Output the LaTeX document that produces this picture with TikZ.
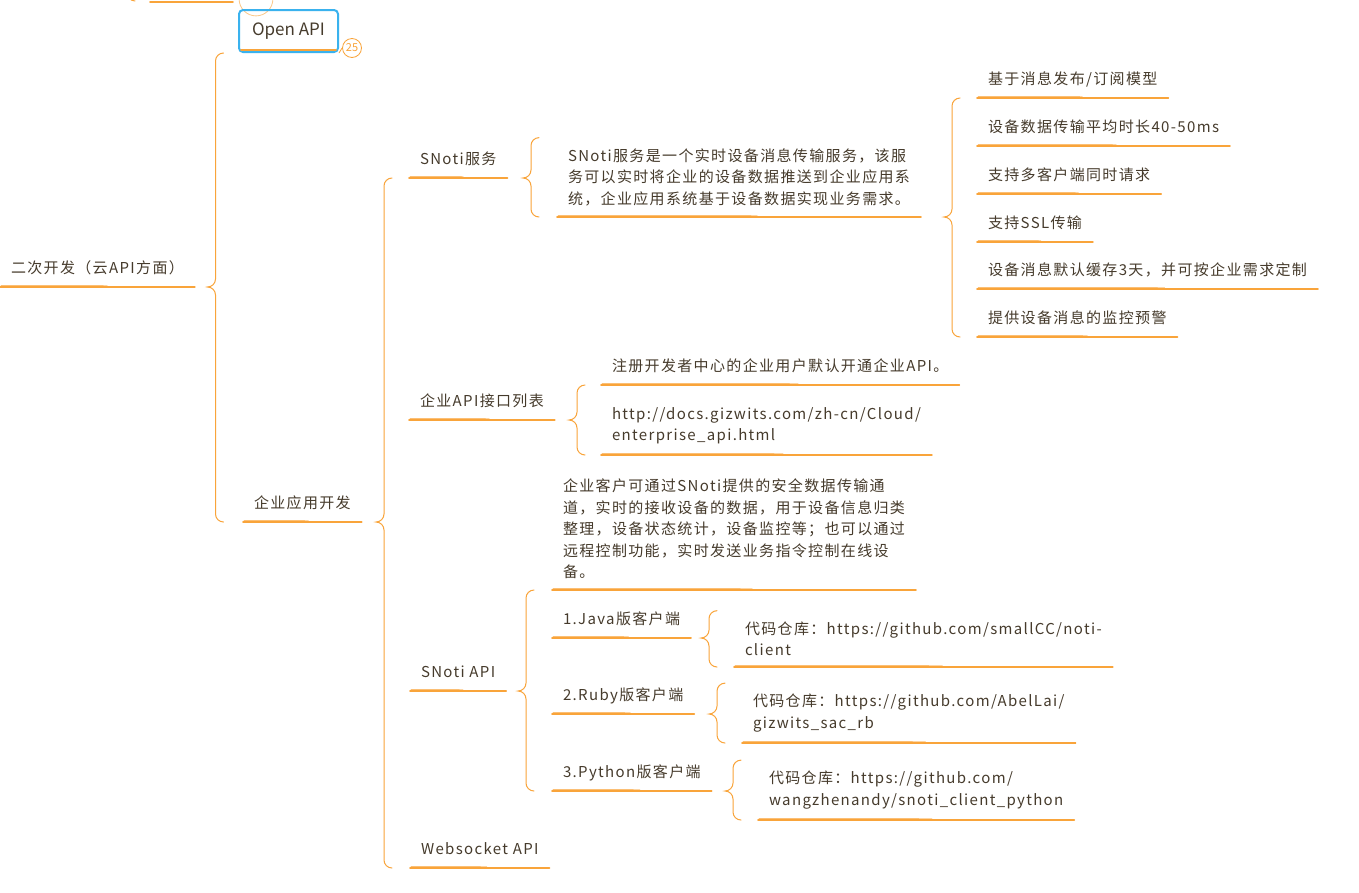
\documentclass[tikz,border=0pt]{standalone}
\usepackage{fontspec}
\setmainfont{Noto Sans CJK SC}[LetterSpace=9]
\usepackage{tikz}
\usetikzlibrary{calc}
\usetikzlibrary{positioning}
\usepackage{xcolor}
\definecolor{mapline}{HTML}{F9A43A}
\definecolor{maptext}{HTML}{463B2C}
\definecolor{mapblue}{HTML}{3AB2EE}

% brace: #1 = x of the spine, #2 = parent, #3 = top end, #4 = bottom end
\newcommand\mapbrace[4]{%
  \draw[brace] let \p1=(#2.south), \p2=(#3), \p3=(#4) in
    (#1pt+8pt,\y2) to[out=180,in=90] (#1pt,\y2-8pt) -- (#1pt,\y1+8pt)
    to[out=-90,in=0] (#1pt-8pt,\y1) to[out=0,in=90] (#1pt,\y1-8pt)
    -- (#1pt,\y3+8pt) to[out=-90,in=180] (#1pt+8pt,\y3);}

\begin{document}
\begin{tikzpicture}[
    x=1pt, y=-1pt,
    % Phong cach cac chu de
    topic/.style={anchor=south west, inner xsep=11pt, inner ysep=11pt, outer sep=0pt,
        text depth=2.5pt, text=maptext, font=\fontsize{15}{21.5}\selectfont},
    note/.style={anchor=south west, inner xsep=11pt, inner ysep=11pt, outer sep=0pt,
        align=left, text=maptext, font=\fontsize{15}{21.5}\selectfont},
    apibox/.style={draw=mapblue, line width=2pt, rounded corners=4pt, minimum width=99pt,
        minimum height=42pt, text=maptext, font=\fontsize{17}{20}\selectfont\addfontfeature{LetterSpace=0}},
    badge/.style={circle, draw=mapline, line width=0.8pt, minimum size=19pt, inner sep=0pt,
        text=mapline, font=\fontsize{11}{12}\selectfont\addfontfeature{LetterSpace=0}},
    % Net gach chan va ngoac
    uline/.style={draw=mapline, line width=1.6pt, line cap=round},
    ulinethin/.style={draw=mapline!70, line width=0.7pt, line cap=round},
    brace/.style={draw=mapline, line width=1pt, line cap=round}
]
    \fill[white] (0,0) rectangle (1359,892);
    \useasboundingbox (0,0) rectangle (1359,892);

    % --- 1. NUT BI CAT O TREN ---
    \coordinate (prevL) at (150,2);
    \coordinate (prevR) at (233,2);
    \node[badge, draw=mapline!60, text=mapline!60] (prevbadge) at (256,-1) {\raisebox{2pt}{···}};
    \draw[uline] (prevL) -- (prevR);
    \draw[brace] (127,-8) to[out=-90,in=180] (135,1);

    % --- 2. GOC VA NHANH CAP 1 ---
    \node[topic] (root) at (0,287) {二次开发（云API方面）};
    \node[apibox] (openapi) at (288.5,31) {Open API};
    \node[badge] (openbadge) at (352,48) {25};
    \draw[draw=mapline, line width=0.8pt] (openapi.south east) -- (openbadge.west);
    \draw[uline] ($(openapi.south west)+(3pt,3pt)$) -- ($(openapi.south east)+(-3pt,3pt)$);
    \node[topic] (entdev) at (243,522) {企业应用开发};

    % --- 3. NHANH CAP 2 ---
    \node[topic] (snotisvc) at (409,178) {SNoti服务};
    \node[topic] (apilist) at (409,420) {企业API接口列表};
    \node[topic] (snotiapi) at (410,691) {SNoti API};
    \node[topic] (websock) at (410,868) {Websocket API};

    % --- 4. SNoti SERVICE ---
    \node[note] (desc1) at (557,217) {SNoti服务是一个实时设备消息传输服务，该服\\务可以实时将企业的设备数据推送到企业应用系\\统，企业应用系统基于设备数据实现业务需求。};
    \node[topic] (f1) at (977,98) {基于消息发布/订阅模型};
    \node[topic] (f2) at (977,146) {设备数据传输平均时长40-50ms};
    \node[topic] (f3) at (977,194) {支持多客户端同时请求};
    \node[topic] (f4) at (977,242) {支持SSL传输};
    \node[topic] (f5) at (977,289) {设备消息默认缓存3天，并可按企业需求定制};
    \node[topic] (f6) at (977,337) {提供设备消息的监控预警};

    % --- 5. ENTERPRISE API ---
    \node[topic] (apinote) at (601,385) {注册开发者中心的企业用户默认开通企业API。};
    \node[note] (apiurl) at (601,455) {http://docs.gizwits.com/zh-cn/Cloud/\\enterprise\_api.html};

    % --- 6. SNoti API ---
    \node[note] (desc2) at (552,590) {企业客户可通过SNoti提供的安全数据传输通\\道，实时的接收设备的数据，用于设备信息归类\\整理，设备状态统计，设备监控等；也可以通过\\远程控制功能，实时发送业务指令控制在线设\\备。};
    \node[topic] (java) at (552,638) {1.Java版客户端};
    \node[topic] (ruby) at (552,714) {2.Ruby版客户端};
    \node[topic] (python) at (552,791) {3.Python版客户端};
    \node[note] (javarepo) at (734,667) {代码仓库：https://github.com/smallCC/noti-\\client};
    \node[note] (rubyrepo) at (742,743) {代码仓库：https://github.com/AbelLai/\\gizwits\_sac\_rb};
    \node[note] (pyrepo) at (758,820) {代码仓库：https://github.com/\\wangzhenandy/snoti\_client\_python};

    % --- 7. GACH CHAN ---
    \foreach \n in {root,entdev,snotisvc,apilist,snotiapi,websock,desc1,f1,f2,f3,f4,f5,f6,
        apinote,apiurl,desc2,java,ruby,python,javarepo,rubyrepo,pyrepo} {
        \draw[uline] (\n.south west) -- (\n.south east);
        \draw[ulinethin] ($(\n.south west)+(1pt,1.6pt)$) -- ($(\n.south west)!0.55!(\n.south east)+(0,1.4pt)$);
    }

    % --- 8. NGOAC NHON ---
    \mapbrace{215.5}{root}{openapi.south}{entdev.south}
    \mapbrace{384}{entdev}{snotisvc.south}{websock.south}
    \mapbrace{531}{snotisvc}{desc1.north}{desc1.south}
    \mapbrace{952}{desc1}{f1.south}{f6.south}
    \mapbrace{577}{apilist}{apinote.south}{apiurl.south}
    \mapbrace{526}{snotiapi}{desc2.south}{python.south}
    \mapbrace{709}{java}{javarepo.north}{javarepo.south}
    \mapbrace{717}{ruby}{rubyrepo.north}{rubyrepo.south}
    \mapbrace{733}{python}{pyrepo.north}{pyrepo.south}

\end{tikzpicture}
\end{document}
